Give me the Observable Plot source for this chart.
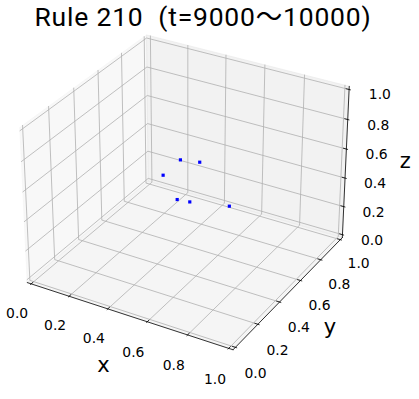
<!DOCTYPE html>
<html>
<head>
<meta charset="utf-8">
<script src="https://cdn.jsdelivr.net/npm/d3@7"></script>
<script src="https://cdn.jsdelivr.net/npm/@observablehq/plot@0.6"></script>
<style>
html, body { margin: 0; padding: 0; background: #ffffff; }
svg text { white-space: pre; }
</style>
</head>
<body>
<div id="chart"></div>
<script>
// ---------------- data ----------------
const title = "Rule 210  (t=9000～10000)";
const xLabel = "x";
const yLabel = "y";
const zLabel = "z";

// scatter points (x, y, z)
const xValues = [0.431, 0.509, 0.390, 0.484, 0.536, 0.694];
const yValues = [0.555, 0.591, 0.473, 0.435, 0.456, 0.531];
const zValues = [0.607, 0.597, 0.541, 0.437, 0.427, 0.409];

const tickValues = [0, 0.2, 0.4, 0.6, 0.8, 1.0];
const tickLabels = ["0.0", "0.2", "0.4", "0.6", "0.8", "1.0"];
const axisLimits = [0, 1];

// ---------------- 3D view (matplotlib-like) ----------------
const elev = 30, azim = -60, dist = 10;
const rawAspect = [4, 4, 3];
const aspNorm = Math.hypot(...rawAspect);
const boxAspect = rawAspect.map(a => a * 1.8294640721620434 / aspNorm);
const er = elev * Math.PI / 180, ar = azim * Math.PI / 180;
const nvec = [Math.cos(er) * Math.cos(ar), Math.cos(er) * Math.sin(ar), Math.sin(er)];
function cross(a, b) { return [a[1]*b[2]-a[2]*b[1], a[2]*b[0]-a[0]*b[2], a[0]*b[1]-a[1]*b[0]]; }
function dot(a, b) { return a[0]*b[0] + a[1]*b[1] + a[2]*b[2]; }
function norm(a) { const l = Math.hypot(...a); return a.map(v => v / l); }
const uvec = norm(cross([0, 0, 1], nvec));
const vvec = cross(nvec, uvec);
function project(x, y, z) {
  const span = axisLimits[1] - axisLimits[0];
  const q = [x, y, z].map((v, i) => (v - axisLimits[0]) / span * boxAspect[i] - boxAspect[i] / 2);
  const w = dist - dot(nvec, q);
  return {px: dot(uvec, q) / w, py: dot(vvec, q) / w};
}
const pad = (axisLimits[1] - axisLimits[0]) / 48;
const lo = axisLimits[0] - pad, hi = axisLimits[1] + pad;

// ---------------- geometry built from the data ----------------
const panes = [
  {color: "#f2f2f2", pts: [[lo,lo,lo],[lo,hi,lo],[lo,hi,hi],[lo,lo,hi],[lo,lo,lo]]},
  {color: "#e6e6e6", pts: [[lo,hi,lo],[hi,hi,lo],[hi,hi,hi],[lo,hi,hi],[lo,hi,lo]]},
  {color: "#ececec", pts: [[lo,lo,lo],[hi,lo,lo],[hi,hi,lo],[lo,hi,lo],[lo,lo,lo]]}
];

const grid = [];
tickValues.forEach((t, i) => {
  [[t,hi,hi],[t,hi,lo],[t,lo,lo]].forEach(p => grid.push({id: "x" + i, ...project(...p)}));
  [[lo,t,hi],[lo,t,lo],[hi,t,lo]].forEach(p => grid.push({id: "y" + i, ...project(...p)}));
  [[lo,lo,t],[lo,hi,t],[hi,hi,t]].forEach(p => grid.push({id: "z" + i, ...project(...p)}));
});

const axisLines = [];
[[[lo,lo,lo],[hi,lo,lo]], [[hi,lo,lo],[hi,hi,lo]], [[hi,hi,lo],[hi,hi,hi]]].forEach((seg, i) =>
  seg.forEach(p => axisLines.push({id: i, ...project(...p)})));

const delta = (axisLimits[1] - axisLimits[0]) / 12;
const tin = 0.2 * delta, tout = 0.1 * delta;
const ticks = [];
const labels = [];
tickValues.forEach((t, i) => {
  let a = project(t, lo - tout, lo), b = project(t, lo + tin, lo);
  ticks.push({x1: a.px, y1: a.py, x2: b.px, y2: b.py});
  labels.push({text: tickLabels[i], ...project(t, lo - 0.117, lo - 0.117)});
  a = project(hi + tout, t, lo); b = project(hi - tin, t, lo);
  ticks.push({x1: a.px, y1: a.py, x2: b.px, y2: b.py});
  labels.push({text: tickLabels[i], ...project(hi + 0.098, t, lo - 0.134)});
  a = project(hi + tout, hi, t); b = project(hi - tin, hi, t);
  ticks.push({x1: a.px, y1: a.py, x2: b.px, y2: b.py});
  labels.push({text: tickLabels[i], ...project(hi + 0.14, hi + 0.02, t)});
});

const axisTitles = [
  {text: xLabel, ...project(0.5, lo - 0.2, lo - 0.19)},
  {text: yLabel, ...project(hi + 0.2, 0.5, lo - 0.165)},
  {text: zLabel, ...project(hi + 0.224, hi + 0.153, 0.5)}
];

const points = xValues.map((x, i) => project(x, yValues[i], zValues[i]));

// ---------------- plot ----------------
const marks = [];
panes.forEach(p => marks.push(Plot.line(p.pts.map(q => project(...q)), {
  x: "px", y: "py", fill: p.color, fillOpacity: 0.5, stroke: p.color, strokeOpacity: 0.5, strokeWidth: 1
})));
marks.push(Plot.line(grid, {x: "px", y: "py", z: "id", stroke: "#b0b0b0", strokeWidth: 0.8}));
marks.push(Plot.line(axisLines, {x: "px", y: "py", z: "id", stroke: "black", strokeWidth: 0.8}));
marks.push(Plot.link(ticks, {x1: "x1", y1: "y1", x2: "x2", y2: "y2", stroke: "black", strokeWidth: 0.8}));
marks.push(Plot.text(labels, {x: "px", y: "py", text: "text", fontSize: 13.9, fontFamily: "DejaVu Sans", fill: "black"}));
marks.push(Plot.text(axisTitles, {x: "px", y: "py", text: "text", fontSize: 21, fontFamily: "DejaVu Sans", fill: "black"}));
marks.push(Plot.dot(points, {x: "px", y: "py", symbol: "square", r: 1.8, fill: "#0000ff", stroke: "none"}));
marks.push(Plot.text([title], {frameAnchor: "top", dx: -7, dy: 7, lineAnchor: "top", fontSize: 26.5, fontFamily: "Roboto, 'Noto Sans CJK JP', sans-serif", fill: "black"}));

const s = 1980, ox = 187.2, oy = 184.3;
const chart = Plot.plot({
  width: 419,
  height: 399,
  marginTop: 0, marginRight: 0, marginBottom: 0, marginLeft: 0,
  style: {background: "white", fontFamily: "DejaVu Sans"},
  x: {domain: [-0.095, 0.09], range: [ox - 0.095 * s, ox + 0.09 * s], axis: null},
  y: {domain: [-0.095, 0.09], range: [oy + 0.095 * s, oy - 0.09 * s], axis: null},
  marks
});
// slight letter spacing on the title to match its width
d3.select(chart).selectAll("text").filter(function() { return this.textContent === title; })
  .style("letter-spacing", "0.8px");
document.getElementById("chart").appendChild(chart);
</script>
</body>
</html>
